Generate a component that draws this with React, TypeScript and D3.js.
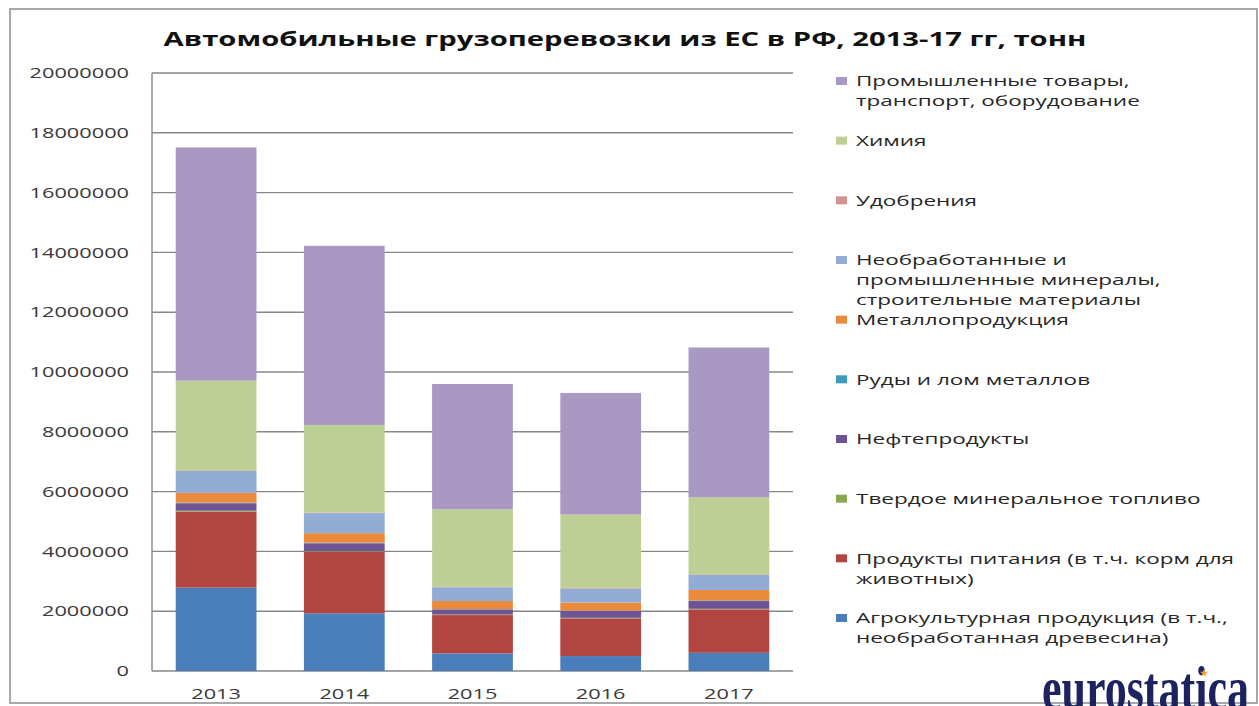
import React, { useEffect, useRef } from 'react';
import * as d3 from 'd3';

// years on the x axis
const years = ['2013', '2014', '2015', '2016', '2017'];

// tonnes per year, bottom of the stack first
const agro = [2790000, 1930000, 590000, 500000, 610000];
const food = [2540000, 2060000, 1280000, 1260000, 1450000];
const solidFuel = [30000, 20000, 20000, 20000, 20000];
const oil = [250000, 260000, 170000, 230000, 260000];
const ores = [20000, 20000, 10000, 10000, 20000];
const metal = [330000, 320000, 270000, 270000, 350000];
const minerals = [730000, 670000, 460000, 470000, 500000];
const fertilizers = [20000, 20000, 20000, 20000, 20000];
const chemistry = [3000000, 2930000, 2590000, 2450000, 2580000];
const industrial = [7800000, 5990000, 4190000, 4070000, 5010000];

const seriesKeys = ['agro', 'food', 'solidFuel', 'oil', 'ores', 'metal', 'minerals', 'fertilizers', 'chemistry', 'industrial'];
const seriesValues = [agro, food, solidFuel, oil, ores, metal, minerals, fertilizers, chemistry, industrial];
const seriesColors = ['#4a7ebb', '#b24441', '#89a84f', '#6e5492', '#3d9cbc', '#ea8a3a', '#93acd6', '#d39290', '#bdcf95', '#a898c2'];
const seriesLabels = [
  ['Агрокультурная продукция (в т.ч.,', 'необработанная древесина)'],
  ['Продукты питания (в т.ч. корм для', 'животных)'],
  ['Твердое минеральное топливо'],
  ['Нефтепродукты'],
  ['Руды и лом металлов'],
  ['Металлопродукция'],
  ['Необработанные и', 'промышленные минералы,', 'строительные материалы'],
  ['Удобрения'],
  ['Химия'],
  ['Промышленные товары,', 'транспорт, оборудование'],
];

const title = 'Автомобильные грузоперевозки из ЕС в РФ, 2013-17 гг, тонн';

const W = 1259;
const H = 706;
const SX = 1.45; // the source picture is stretched sideways
const FONT = "'Open Sans', 'DejaVu Sans', sans-serif";

const App = () => {
  const svgRef = useRef(null);

  useEffect(() => {
    const svg = d3.select(svgRef.current);
    svg.selectAll('*').remove();

    const plot = { left: 152, right: 793, top: 73, bottom: 671 };

    // outer frame
    svg.append('rect')
      .attr('x', 10).attr('y', 9)
      .attr('width', 1247).attr('height', 694)
      .attr('fill', '#fff')
      .attr('stroke', '#8c8c8c')
      .attr('stroke-width', 1.5);

    svg.append('text')
      .attr('transform', `translate(625,46) scale(1.5,1)`)
      .attr('text-anchor', 'middle')
      .attr('font-family', FONT)
      .attr('font-weight', 700)
      .attr('font-size', 19.5)
      .attr('fill', '#111')
      .text(title);

    const x = d3.scaleBand()
      .domain(years)
      .range([plot.left, plot.right])
      .paddingInner(0.37)
      .paddingOuter(0.185);

    const y = d3.scaleLinear()
      .domain([0, 20000000])
      .range([plot.bottom, plot.top]);

    // gridlines + y labels
    const ticks = y.ticks(10);
    svg.append('g').selectAll('line')
      .data(ticks)
      .enter().append('line')
      .attr('x1', plot.left).attr('x2', plot.right)
      .attr('y1', d => y(d)).attr('y2', d => y(d))
      .attr('stroke', '#878787')
      .attr('stroke-width', 1.4);

    svg.append('g').selectAll('text')
      .data(ticks)
      .enter().append('text')
      .attr('transform', d => `translate(129,${y(d)}) scale(${SX},1)`)
      .attr('dy', '0.35em')
      .attr('text-anchor', 'end')
      .attr('font-family', FONT)
      .attr('font-size', 15)
      .attr('fill', '#3a3a3a')
      .text(d => d3.format('d')(d));

    // stacked bars
    const table = years.map((yr, i) => {
      const row = { year: yr };
      seriesKeys.forEach((k, j) => { row[k] = seriesValues[j][i]; });
      return row;
    });
    const stacked = d3.stack().keys(seriesKeys)(table);

    svg.append('g').selectAll('g')
      .data(stacked)
      .enter().append('g')
      .attr('fill', (d, i) => seriesColors[i])
      .selectAll('rect')
      .data(d => d)
      .enter().append('rect')
      .attr('x', d => x(d.data.year))
      .attr('width', x.bandwidth())
      .attr('y', d => y(d[1]))
      .attr('height', d => y(d[0]) - y(d[1]));

    // left axis line
    svg.append('line')
      .attr('x1', plot.left).attr('x2', plot.left)
      .attr('y1', plot.top).attr('y2', plot.bottom)
      .attr('stroke', '#878787')
      .attr('stroke-width', 1.4);

    svg.append('g').selectAll('text')
      .data(years)
      .enter().append('text')
      .attr('transform', d => `translate(${x(d) + x.bandwidth() / 2},699) scale(${SX},1)`)
      .attr('text-anchor', 'middle')
      .attr('font-family', FONT)
      .attr('font-size', 15)
      .attr('fill', '#3a3a3a')
      .text(d => d);

    // legend, top entry is the last series
    const legendY = d3.scaleLinear().domain([0, 9]).range([81, 618]);
    const order = d3.range(seriesKeys.length).reverse();
    const items = svg.append('g').selectAll('g')
      .data(order)
      .enter().append('g')
      .attr('transform', (d, i) => `translate(0,${legendY(i)})`);

    items.append('rect')
      .attr('x', 836).attr('y', -4)
      .attr('width', 11).attr('height', 8)
      .attr('fill', d => seriesColors[d]);

    items.each(function (d) {
      d3.select(this).selectAll('text')
        .data(seriesLabels[d])
        .enter().append('text')
        .attr('transform', (t, k) => `translate(856,${k * 20}) scale(1.5,1)`)
        .attr('dy', '0.35em')
        .attr('font-family', FONT)
        .attr('font-size', 15)
        .attr('fill', '#262626')
        .text(t => t);
    });

    // logo, cut by the bottom edge as in the source
    svg.append('text')
      .attr('transform', 'translate(1042,709) scale(0.71,1)')
      .attr('font-family', "'Liberation Serif', serif")
      .attr('font-weight', 700)
      .attr('font-size', 62)
      .attr('fill', '#1c2360')
      .text('eurostatica');

    svg.append('path')
      .attr('transform', 'translate(1204,673)')
      .attr('d', d3.symbol(d3.symbolStar, 22)())
      .attr('fill', '#f0a030');
  }, []);

  return (
    <svg
      ref={svgRef}
      width={W}
      height={H}
      style={{ position: 'absolute', left: 0, top: 0, background: '#fff' }}
    />
  );
};

export default App;
